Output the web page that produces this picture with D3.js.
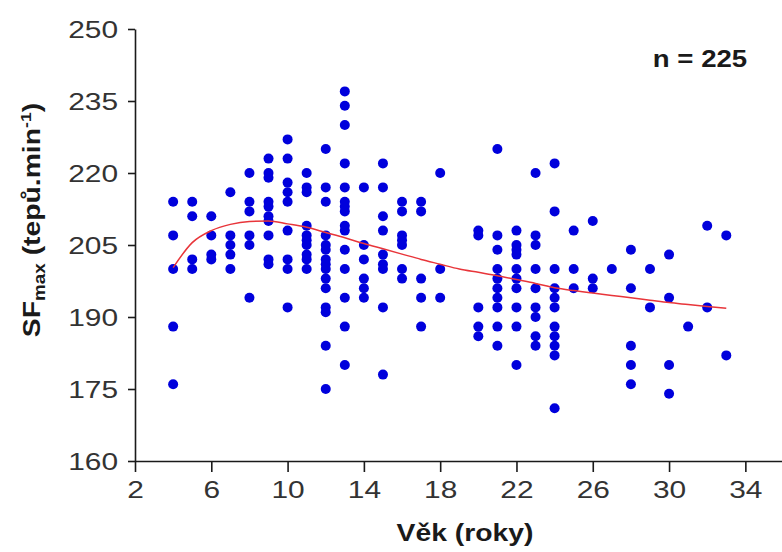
<!DOCTYPE html>
<html>
<head>
<meta charset="utf-8">
<script src="https://cdn.jsdelivr.net/npm/d3@7"></script>
<style>
  body { margin: 0; background: #fff; }
  text { font-family: "Liberation Sans", Arial, sans-serif; }
</style>
</head>
<body>
<div id="graph"></div>
<script>
// ages (x) and heart rate readings per age
var ages = [4, 5, 6, 7, 8, 9, 10, 11, 12, 13, 14, 15, 16, 17, 18, 20, 21, 22, 23, 24, 25, 26, 27, 28, 29, 30, 31, 32, 33];
var sfValues = [
  [214, 207, 200, 188, 176],
  [214, 211, 202, 200],
  [211, 207, 203, 202],
  [216, 207, 205, 203, 200],
  [220, 214, 212, 207, 205, 194],
  [223, 220, 219, 214, 213, 211, 210, 207, 202, 201],
  [227, 223, 218, 216, 214, 208, 202, 200, 192],
  [220, 217, 216, 209, 207, 206, 205, 203, 202, 200],
  [225, 217, 214, 207, 205, 204, 202, 201, 200, 198, 196, 192, 191, 184, 175],
  [237, 234, 230, 222, 217, 214, 213, 212, 209, 208, 204, 200, 194, 188, 180],
  [217, 205, 202, 198, 196, 194],
  [222, 217, 211, 208, 203, 201, 200, 192, 178],
  [214, 212, 207, 206, 205, 200, 198],
  [214, 212, 198, 194, 188],
  [220, 200, 194],
  [208, 207, 192, 188, 186],
  [225, 207, 204, 200, 198, 196, 194, 192, 188, 184],
  [208, 205, 204, 203, 200, 198, 196, 192, 188, 180],
  [220, 207, 205, 200, 196, 192, 190, 186, 184],
  [222, 212, 200, 196, 194, 192, 188, 186, 184, 182, 171],
  [208, 200, 196],
  [210, 198, 196],
  [200],
  [204, 196, 184, 180, 176],
  [200, 192],
  [203, 194, 180, 174],
  [188],
  [209, 192],
  [207, 182]
];

// fitted trend line
var fitAges = [4, 5, 6, 7, 8, 9, 10, 11, 12, 13, 14, 15, 16, 17, 18, 19, 20, 21, 22, 23, 24, 25, 26, 27, 28, 29, 30, 31, 32, 33];
var fitValues = [200.3, 205.5, 208, 209.3, 209.9, 210, 209.4, 208.7, 207.6, 206.5, 205.3, 204.2, 203.1, 202, 201, 200, 199.3, 198.6, 197.8, 197, 196.1, 195.5, 195, 194.5, 194, 193.5, 193, 192.6, 192.2, 191.8];

var xTicks = [2, 6, 10, 14, 18, 22, 26, 30, 34];
var yTicks = [160, 175, 190, 205, 220, 235, 250];

var points = [];
ages.forEach(function(a, i) {
  sfValues[i].forEach(function(v) { points.push([a, v]); });
});

var width = 782, height = 552;
var svg = d3.select('#graph').append('svg')
  .attr('width', width)
  .attr('height', height);

var x = d3.scaleLinear().domain([2, 36]).range([135, 783.5]);
var y = d3.scaleLinear().domain([160, 250]).range([461, 29]);

// axes
var xAxis = svg.append('g')
  .attr('transform', 'translate(0,' + y(160) + ')')
  .call(d3.axisBottom(x).tickValues(xTicks).tickSizeInner(11).tickSizeOuter(0).tickPadding(10));
var yAxis = svg.append('g')
  .attr('transform', 'translate(' + x(2) + ',0)')
  .call(d3.axisLeft(y).tickValues(yTicks).tickSizeInner(7).tickSizeOuter(0).tickPadding(6));

[xAxis, yAxis].forEach(function(g) {
  g.selectAll('path, line').attr('stroke', '#1a1a1a').attr('stroke-width', 1.6);
  g.selectAll('text').attr('font-size', 23).attr('fill', '#333')
    .attr('transform', 'scale(1.3,1)')
    .style('font-family', '"Liberation Sans", Arial, sans-serif');
});
yAxis.selectAll('text').attr('dy', '0.36em');

// dots
svg.append('g')
  .selectAll('circle')
  .data(points)
  .enter()
  .append('circle')
  .attr('cx', function(d) { return x(d[0]); })
  .attr('cy', function(d) { return y(d[1]); })
  .attr('r', 5)
  .attr('fill', '#0000dc');

// trend line
var line = d3.line()
  .x(function(d) { return x(d[0]); })
  .y(function(d) { return y(d[1]); })
  .curve(d3.curveMonotoneX);
svg.append('path')
  .datum(fitAges.map(function(a, i) { return [a, fitValues[i]]; }))
  .attr('d', line)
  .attr('fill', 'none')
  .attr('stroke', '#e8353a')
  .attr('stroke-width', 1.5);

// labels
svg.append('text')
  .attr('transform', 'translate(465,541) scale(1.18,1)')
  .attr('text-anchor', 'middle')
  .attr('font-size', 24).attr('font-weight', 'bold').attr('fill', '#1a1a1a')
  .text('Věk (roky)');

var yl = svg.append('text')
  .attr('transform', 'translate(40,220) rotate(-90) scale(1.18,1)')
  .attr('text-anchor', 'middle')
  .attr('font-size', 24).attr('font-weight', 'bold').attr('fill', '#1a1a1a');
yl.append('tspan').text('SF');
yl.append('tspan').attr('font-size', 16).attr('dy', 5).text('max');
yl.append('tspan').attr('dy', -5).text(' (tepů.min');
yl.append('tspan').attr('font-size', 15).attr('dy', -9).text('-1');
yl.append('tspan').attr('dy', 9).text(')');

svg.append('text')
  .attr('transform', 'translate(700,67) scale(1.15,1)')
  .attr('text-anchor', 'middle')
  .attr('font-size', 24).attr('font-weight', 'bold').attr('fill', '#1a1a1a')
  .text('n = 225');
</script>
</body>
</html>
